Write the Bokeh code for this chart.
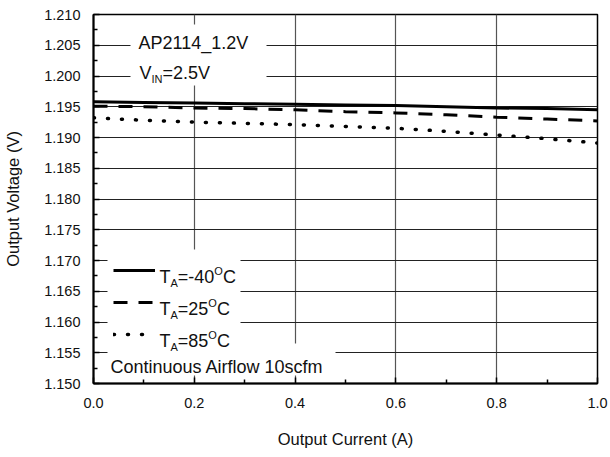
from bokeh.plotting import figure
from bokeh.models import (FixedTicker, NumeralTickFormatter, Range1d, Label,
                          BoxAnnotation, Legend, LegendItem)
from bokeh.core.properties import value
from bokeh.embed import file_html
from bokeh.resources import INLINE

# ---- data ----
current = [0.0, 0.1, 0.2, 0.3, 0.4, 0.5, 0.6, 0.7, 0.8, 0.9, 1.0]
v_m40 = [1.1958, 1.1957, 1.1956, 1.1955, 1.1954, 1.1953, 1.1952, 1.1950, 1.1948, 1.1947, 1.1945]
v_25 = [1.1951, 1.1950, 1.1948, 1.1947, 1.1945, 1.1942, 1.1940, 1.1937, 1.1933, 1.1930, 1.1927]
v_85 = [1.1932, 1.1928, 1.1925, 1.1923, 1.1921, 1.1918, 1.1915, 1.1910, 1.1904, 1.1898, 1.1891]

x_ticks = [0.0, 0.2, 0.4, 0.6, 0.8, 1.0]
x_minor = [0.1, 0.3, 0.5, 0.7, 0.9]
y_ticks = [1.150, 1.155, 1.160, 1.165, 1.170, 1.175, 1.180, 1.185,
           1.190, 1.195, 1.200, 1.205, 1.210]
y_minor = [1.1525, 1.1575, 1.1625, 1.1675, 1.1725, 1.1775, 1.1825,
           1.1875, 1.1925, 1.1975, 1.2025, 1.2075]

FONT = "Liberation Sans"

p = figure(width=610, height=456, x_range=Range1d(0.0, 1.0),
           y_range=Range1d(1.150, 1.210), output_backend="svg",
           toolbar_location=None, min_border_left=93, min_border_right=13,
           min_border_top=14, min_border_bottom=73)
p.background_fill_color = "white"
p.border_fill_color = "white"
p.outline_line_color = "black"
p.outline_line_width = 1.5

p.xaxis.ticker = FixedTicker(ticks=x_ticks, minor_ticks=x_minor)
p.yaxis.ticker = FixedTicker(ticks=y_ticks, minor_ticks=y_minor)
p.xaxis.formatter = NumeralTickFormatter(format="0.0")
p.yaxis.formatter = NumeralTickFormatter(format="0.000")

for ax in (p.xaxis[0], p.yaxis[0]):
    ax.axis_line_color = "black"
    ax.axis_line_width = 2
    ax.major_tick_in = 6
    ax.major_tick_out = 0
    ax.minor_tick_in = 4
    ax.minor_tick_out = 0
    ax.major_tick_line_width = 1.5
    ax.minor_tick_line_width = 1.5
    ax.major_tick_line_color = "black"
    ax.minor_tick_line_color = "black"
    ax.major_label_text_font = FONT
    ax.major_label_text_font_size = "14.5px"
    ax.major_label_text_color = "#111111"
    ax.axis_label_text_font = FONT
    ax.axis_label_text_font_size = "16.5px"
    ax.axis_label_text_font_style = "normal"
    ax.axis_label_text_color = "#111111"

p.xaxis.major_label_standoff = 14
p.xaxis.axis_label = "Output Current (A)"
p.xaxis.axis_label_standoff = 19
p.yaxis.major_label_standoff = 13
p.yaxis.axis_label = "Output Voltage (V)"
p.yaxis.axis_label_standoff = 19

p.xgrid.grid_line_color = "#555555"
p.xgrid.grid_line_width = 1.2
p.ygrid.grid_line_color = "#222222"
p.ygrid.grid_line_width = 1

# ---- series ----
r1 = p.line(current, v_m40, line_color="black", line_width=3)
r2 = p.line(current, v_25, line_color="black", line_width=3, line_dash="14 11")
r3 = p.line(current, v_85, line_color="black", line_width=3.5,
            line_dash="1 13", line_cap="round")

# ---- annotation layout helpers (reference pixel -> data) ----
REF_L, REF_R, REF_T, REF_B = 93.0, 597.0, 14.0, 383.0


def dx(px):
    return (px - REF_L) / (REF_R - REF_L)


def dy(py):
    return 1.210 - (py - REF_T) / (REF_B - REF_T) * 0.060


def white_box(l, r, t, b):
    p.add_layout(BoxAnnotation(left=dx(l), right=dx(r), top=dy(t), bottom=dy(b),
                               fill_color="white", fill_alpha=1, line_alpha=0,
                               level="underlay"))


# white boxes behind the texts (cover the grid)
white_box(130, 266, 24, 85)
white_box(107, 240, 249, 350)
white_box(107, 335, 343, 375)

legend = Legend(items=[LegendItem(label=value(" "), renderers=[r]) for r in (r1, r2, r3)],
                location=(14, 33), glyph_width=42, glyph_height=20, label_height=20,
                label_width=74, label_standoff=5, spacing=12, padding=6, margin=0,
                background_fill_alpha=0, border_line_alpha=0,
                label_text_font_size="10px")
p.add_layout(legend)

WID = {"T": .611, "A": .667, "=": .584, "-": .333, "0": .556, "1": .556, "2": .556,
       "4": .556, "5": .556, "8": .556, "O": .778, "C": .722, "V": .667, "I": .278,
       "N": .722, ".": .278, "P": .667, "_": .556}


def runs_label(x_px, base_py, runs):
    off = 0.0
    for text, size, shift in runs:
        p.add_layout(Label(x=dx(x_px), y=dy(base_py), x_offset=off, y_offset=shift,
                           text=text, text_font=FONT, text_font_size=f"{size}px",
                           text_color="#111111", text_align="left",
                           text_baseline="alphabetic", level="overlay"))
        off += sum(WID.get(c, 0.556) for c in text) * size


runs_label(138, 42.7, [("AP2114_1.2V", 18, 0)])
runs_label(139, 72.7, [("V", 18, 0), ("IN", 11, -5.5), ("=2.5V", 18, 0)])

legend_temps = ["-40", "25", "85"]
legend_bases = [276, 308.3, 340]
for t, b in zip(legend_temps, legend_bases):
    runs_label(159, b, [("T", 18, 0), ("A", 11, -6), ("=" + t, 18, 0),
                        ("O", 11, 5.5), ("C", 18, 0)])

p.add_layout(Label(x=dx(110), y=dy(366), text="Continuous Airflow 10scfm",
                   text_font=FONT, text_font_size="18px", text_color="#111111",
                   text_align="left", text_baseline="alphabetic", level="overlay"))

open("out.html", "w").write(file_html(p, INLINE))
